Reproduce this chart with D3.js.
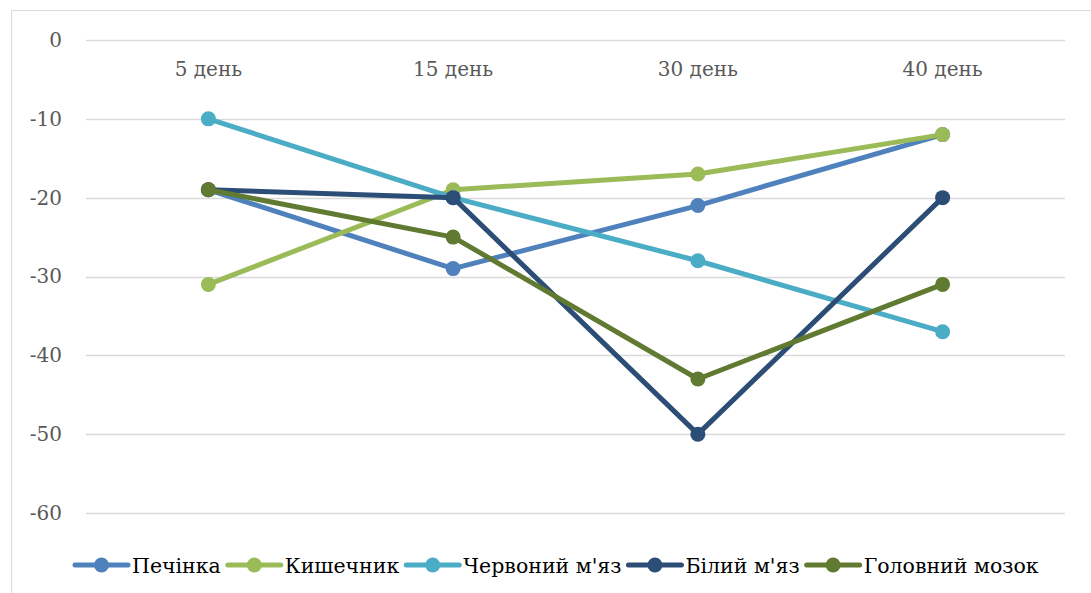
<!DOCTYPE html>
<html>
<head>
<meta charset="utf-8">
<script src="https://d3js.org/d3.v7.min.js"></script>
<style>
  body { margin: 0; background: #fff; }
  svg text { font-family: "DejaVu Serif", serif; }
</style>
</head>
<body>
<div class="chart"></div>
<script>
// categories and series
var days = ["5 день", "15 день", "30 день", "40 день"];
var yTicks = [0, -10, -20, -30, -40, -50, -60];

var pechinka = [-19, -29, -21, -12];
var kyshechnyk = [-31, -19, -17, -12];
var chervonyi = [-10, -20, -28, -37];
var bilyi = [-19, -20, -50, -20];
var mozok = [-19, -25, -43, -31];

var seriesNames = ["Печінка", "Кишечник", "Червоний м'яз", "Білий м'яз", "Головний мозок"];
var seriesColors = ["#4f81bd", "#9bbb59", "#4bacc6", "#2c4d75", "#617a31"];

var series = [pechinka, kyshechnyk, chervonyi, bilyi, mozok].map(function(vals, i) {
    return { name: seriesNames[i], color: seriesColors[i], values: vals };
});

var w = 1091, h = 593;
var svg = d3.select("div.chart").append("svg")
    .attr("width", w)
    .attr("height", h);

// chart area border
svg.append("rect")
    .attr("x", 11.5).attr("y", 10.5)
    .attr("width", w + 20).attr("height", h + 20)
    .attr("fill", "none")
    .attr("stroke", "#d9d9d9")
    .attr("stroke-width", 1);

var xScale = d3.scaleBand().domain(days).range([86, 1065]).padding(0);
var yScale = d3.scaleLinear().domain([-60, 0]).range([513, 40]);

// gridlines
svg.append("g")
    .selectAll("line")
    .data(yTicks)
    .enter().append("line")
    .attr("x1", 86).attr("x2", 1065)
    .attr("y1", function(d) { return Math.round(yScale(d)) + 0.5; })
    .attr("y2", function(d) { return Math.round(yScale(d)) + 0.5; })
    .attr("stroke", "#d9d9d9")
    .attr("stroke-width", 1.5);

// y axis labels
var yAxis = d3.axisLeft(yScale).tickValues(yTicks).tickSize(0).tickPadding(0)
    .tickFormat(function(d) { return d === 0 ? "0" : "-" + Math.abs(d); });
var yg = svg.append("g")
    .attr("transform", "translate(62,0)")
    .call(yAxis);
yg.select(".domain").remove();
yg.selectAll("text")
    .attr("fill", "#595959")
    .style("font-size", "20px");

// x axis labels (sit under the 0 line)
var xAxis = d3.axisBottom(xScale).tickSize(0).tickPadding(0);
var xg = svg.append("g")
    .attr("transform", "translate(0," + yScale(0) + ")")
    .call(xAxis);
xg.select(".domain").remove();
xg.selectAll("text")
    .attr("fill", "#595959")
    .attr("dy", "36px")
    .style("font-size", "20px");

var line = d3.line()
    .x(function(d, i) { return xScale(days[i]) + xScale.bandwidth() / 2; })
    .y(function(d) { return yScale(d); });

series.forEach(function(s) {
    var g = svg.append("g");
    g.append("path")
        .attr("d", line(s.values))
        .attr("fill", "none")
        .attr("stroke", s.color)
        .attr("stroke-width", 5)
        .attr("stroke-linejoin", "round");
    g.selectAll("circle")
        .data(s.values)
        .enter().append("circle")
        .attr("cx", function(d, i) { return xScale(days[i]) + xScale.bandwidth() / 2; })
        .attr("cy", function(d) { return yScale(d); })
        .attr("r", 7.5)
        .attr("fill", s.color);
});

// legend
var legend = svg.append("g").attr("transform", "translate(0,565)");
var lx = 75;
series.forEach(function(s) {
    var item = legend.append("g").attr("transform", "translate(" + lx + ",0)");
    item.append("line")
        .attr("x1", 0).attr("x2", 53)
        .attr("y1", 0).attr("y2", 0)
        .attr("stroke", s.color)
        .attr("stroke-width", 5)
        .attr("stroke-linecap", "round");
    item.append("circle")
        .attr("cx", 26.5).attr("cy", 0).attr("r", 7.5)
        .attr("fill", s.color);
    var t = item.append("text")
        .attr("x", 57).attr("y", 7.5)
        .attr("fill", "#000")
        .style("font-size", "20.5px")
        .text(s.name);
    lx += 57 + t.node().getComputedTextLength() + 7;
});
</script>
</body>
</html>
